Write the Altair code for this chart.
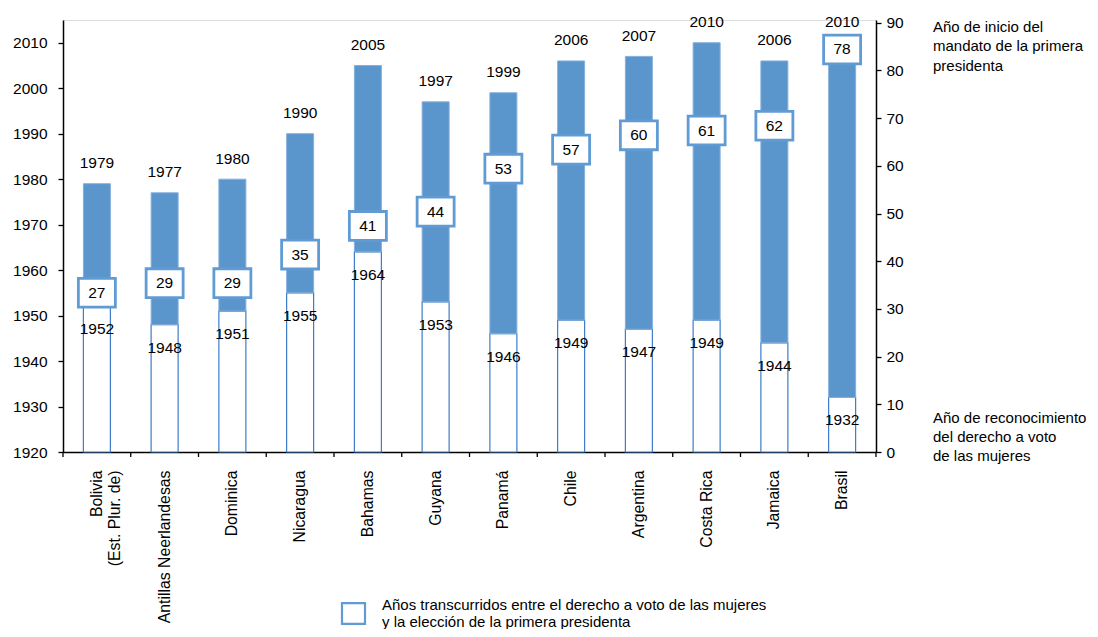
import altair as alt
import pandas as pd

countries = ["Bolivia|(Est. Plur. de)", "Antillas Neerlandesas", "Dominica", "Nicaragua",
             "Bahamas", "Guyana", "Panamá", "Chile", "Argentina", "Costa Rica",
             "Jamaica", "Brasil"]
vote_year = [1952, 1948, 1951, 1955, 1964, 1953, 1946, 1949, 1947, 1949, 1944, 1932]
pres_year = [1979, 1977, 1980, 1990, 2005, 1997, 1999, 2006, 2007, 2010, 2006, 2010]
gap_years = [27, 29, 29, 35, 41, 44, 53, 57, 60, 61, 62, 78]
left_ticks = list(range(1920, 2011, 10))
right_ticks = list(range(0, 91, 10))
legend_label = "Años transcurridos entre el derecho a voto de las mujeres\ny la elección de la primera presidenta"
note_top = "Año de inicio del\nmandato de la primera\npresidenta"
note_bottom = "Año de reconocimiento\ndel derecho a voto\nde las mujeres"

df = pd.DataFrame({
    "country": countries,
    "vote": vote_year,
    "pres": pres_year,
    "gap": gap_years,
})

FONT = "Liberation Sans"
FS = 15.5
BLUE = "#5a95cc"
BOX = "#619bd4"
EDGE = "#3d7cc8"

xscale = alt.Scale(domain=countries, paddingInner=0, paddingOuter=0)
x_axis = alt.Axis(labelAngle=-90, ticks=False, tickSize=0, labelPadding=18,
                  labelFontSize=15.8, labelFont=FONT, labelColor="black",
                  domainColor="black", domainWidth=1.5, title=None,
                  labelExpr="split(datum.label, '|')", labelLimit=0)
x_enc = alt.X("country:N", sort=countries, scale=xscale, axis=x_axis)

yscale = alt.Scale(domain=[1920, 2015], nice=False, zero=False)
left_axis = alt.Axis(values=left_ticks, format="d", tickSize=5, labelPadding=11,
                     labelFontSize=FS, labelFont=FONT, labelColor="black",
                     domainColor="black", domainWidth=1.5, tickColor="black",
                     tickWidth=1.3, grid=False, title=None)


def ly(field):
    return alt.Y(field, scale=yscale, axis=left_axis)


base = alt.Chart(df)

white = base.mark_bar(width=27, fill="white", stroke=EDGE, strokeWidth=1.2).encode(
    x=x_enc, y=ly("vote:Q"), y2=alt.datum(1920),
)
blue = base.mark_bar(width=27, fill=BLUE, stroke="#86b0dc", strokeWidth=1).encode(
    x=x_enc, y=ly("pres:Q"), y2="vote:Q",
)
pres_txt = base.mark_text(dy=-20.5, baseline="middle", fontSize=FS, font=FONT, color="black").encode(
    x=x_enc, y=ly("pres:Q"), text=alt.Text("pres:Q", format="d"),
)
vote_txt = base.mark_text(dy=23, baseline="middle", fontSize=FS, font=FONT, color="black").encode(
    x=x_enc, y=ly("vote:Q"), text=alt.Text("vote:Q", format="d"),
)
xticks = base.mark_rule(color="black", strokeWidth=1.3).encode(
    x=alt.X("country:N", sort=countries, scale=xscale, bandPosition=0, axis=x_axis),
    y=alt.value(432), y2=alt.value(437),
)
xtick_end = base.transform_filter(alt.datum.country == countries[-1]).mark_rule(
    color="black", strokeWidth=1.3).encode(
    x=alt.X("country:N", sort=countries, scale=xscale, bandPosition=1, axis=x_axis),
    y=alt.value(432), y2=alt.value(437),
)

left_layer = alt.layer(white, blue, pres_txt, vote_txt, xticks, xtick_end)

rscale = alt.Scale(domain=[0, 90.57], nice=False, zero=True)
right_axis = alt.Axis(orient="right", values=right_ticks, tickSize=5, labelPadding=5,
                      labelFontSize=FS, labelFont=FONT, labelColor="black",
                      domainColor="black", domainWidth=1.5, tickColor="black",
                      tickWidth=1.3, grid=False, title=None)

box_shape = "M-1,-0.78L1,-0.78L1,0.78L-1,0.78Z"
legend_shape = "M-1,-0.91L1,-0.91L1,0.91L-1,0.91Z"

boxes = base.mark_point(shape=box_shape, size=37 * 37, filled=False, fill="white",
                        fillOpacity=1, stroke=BOX, strokeWidth=2.8, opacity=1,
                        yOffset=-30.5).encode(
    x=x_enc,
    y=alt.Y("gap:Q", scale=rscale, axis=right_axis),
)
box_txt = base.mark_text(dy=-30.5, baseline="middle", fontSize=FS, font=FONT, color="black").encode(
    x=x_enc,
    y=alt.Y("gap:Q", scale=rscale, axis=right_axis),
    text=alt.Text("gap:Q", format="d"),
)
right_layer = alt.layer(boxes, box_txt)

NOTE_FS = 15


def note(text, ypos):
    return alt.Chart(pd.DataFrame({"t": [text]})).mark_text(
        align="left", baseline="middle", lineBreak="\n", lineHeight=19.2,
        fontSize=NOTE_FS, font=FONT, color="black").encode(
        x=alt.value(870), y=alt.value(ypos), text="t:N")


note1 = note(note_top, 7.3)
note2 = note(note_bottom, 398)

leg_sym = alt.Chart(pd.DataFrame({"t": [legend_label]})).mark_point(
    shape=legend_shape, size=23 * 23, filled=False, fill="white", fillOpacity=1,
    stroke=BOX, strokeWidth=2.2, opacity=1).encode(
    x=alt.value(290.5), y=alt.value(593.5))
leg_txt = alt.Chart(pd.DataFrame({"t": [legend_label]})).mark_text(
    align="left", baseline="middle", lineBreak="\n", lineHeight=17,
    fontSize=NOTE_FS, font=FONT, color="black").encode(
    x=alt.value(319), y=alt.value(585), text="t:N")

chart = alt.layer(left_layer, right_layer, note1, note2, leg_sym, leg_txt).resolve_scale(
    y="independent"
).properties(
    width=813, height=432,
    autosize=alt.AutoSizeParams(type="none"),
    padding={"left": 55, "top": 12, "right": 214, "bottom": 177},
).configure_view(stroke=None).configure(background="white")

chart.save("out.html", embed_options={"renderer": "svg", "actions": False})
